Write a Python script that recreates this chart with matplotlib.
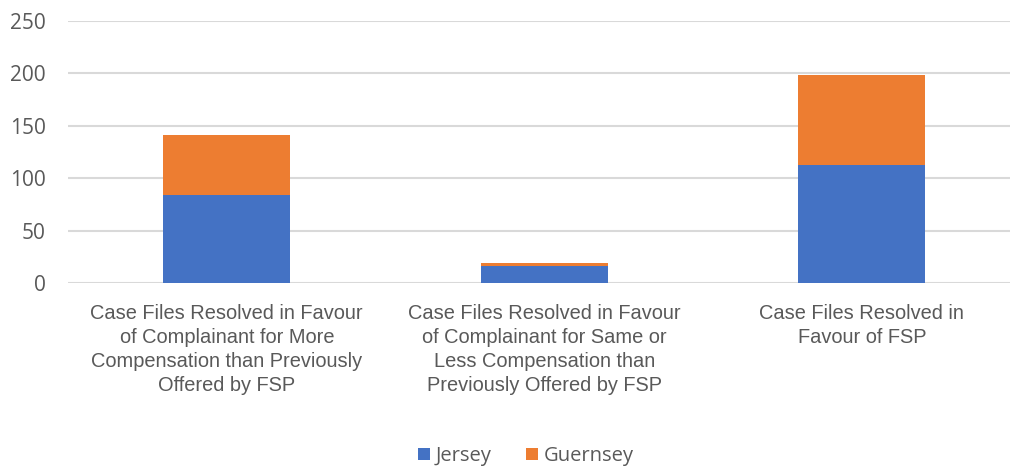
import matplotlib
matplotlib.use("Agg")
import matplotlib.pyplot as plt
from matplotlib.patches import Patch

categories = [
    "Case Files Resolved in Favour\nof Complainant for More\nCompensation than Previously\nOffered by FSP",
    "Case Files Resolved in Favour\nof Complainant for Same or\nLess Compensation than\nPreviously Offered by FSP",
    "Case Files Resolved in\nFavour of FSP",
]
jersey = [84, 16, 113]
guernsey = [57, 3, 85]
yticks = [0, 50, 100, 150, 200, 250]

BLUE = "#4472C4"
ORANGE = "#ED7D31"
TEXT = "#595959"
GRID = "#D9D9D9"

W, H, DPI = 1010, 468, 100
fig = plt.figure(figsize=(W / DPI, H / DPI), dpi=DPI)
fig.patch.set_facecolor("white")

left, right, top, bottom = 68, 1010, 21, 283
ax = fig.add_axes([left / W, 1 - bottom / H, (right - left) / W, (bottom - top) / H])

x = list(range(len(categories)))
ax.bar(x, jersey, width=0.4, color=BLUE, zorder=3)
ax.bar(x, guernsey, width=0.4, bottom=jersey, color=ORANGE, zorder=3)

ax.set_ylim(0, 250)
ax.set_xlim(-0.5, -0.5 + (right - left) / 317.5)
ax.set_yticks(yticks)
ax.set_yticklabels([str(v) for v in yticks], fontfamily="Open Sans", fontsize=15, color=TEXT)
ax.yaxis.grid(True, color=GRID, linewidth=1.5, zorder=0)
ax.tick_params(axis="y", length=0, pad=16)
ax.tick_params(axis="x", length=0)
ax.set_xticks([])
for s in ax.spines.values():
    s.set_visible(False)

for xi, lab in zip(x, categories):
    ax.annotate(lab, xy=(xi, 0), xycoords="data", xytext=(0, -15), textcoords="offset points",
                ha="center", va="top", fontsize=14.4, fontfamily="Liberation Sans",
                color=TEXT, linespacing=1.34, annotation_clip=False)

handles = [Patch(facecolor=BLUE, label="Jersey"), Patch(facecolor=ORANGE, label="Guernsey")]
fig.legend(handles=handles, loc="center", bbox_to_anchor=(526 / W, 1 - 456 / H), ncol=2,
           frameon=False, prop={"family": "Open Sans", "size": 14.5}, labelcolor=TEXT,
           handlelength=0.6, handleheight=0.6, handletextpad=0.3, columnspacing=1.7)

fig.savefig("out.png", dpi=DPI, facecolor="white")
